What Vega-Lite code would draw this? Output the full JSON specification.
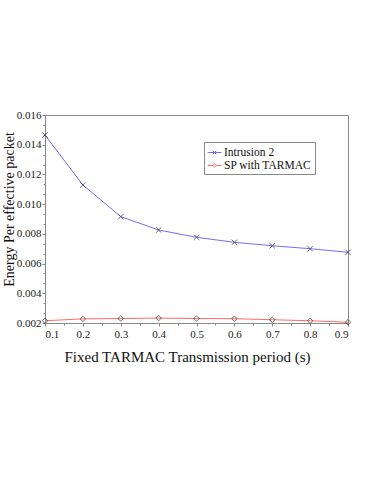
{
  "$schema": "https://vega.github.io/schema/vega-lite/v6.json",
  "autosize": "none",
  "width": 303,
  "height": 208,
  "padding": {"left": 45, "top": 115, "right": 26, "bottom": 161},
  "background": "white",
  "config": {
    "font": "Liberation Serif",
    "view": {"stroke": "#888888", "strokeWidth": 1},
    "axis": {"labelFont": "Liberation Serif", "titleFont": "Liberation Serif", "labelColor": "#222", "titleColor": "#111", "domainColor": "#888", "tickColor": "#888", "grid": false, "titleFontWeight": "normal"}
  },
  "data": {"values": [
    {"period": 0.1, "energy": 0.01465, "series": "Intrusion 2"},
    {"period": 0.2, "energy": 0.01129, "series": "Intrusion 2"},
    {"period": 0.3, "energy": 0.00916, "series": "Intrusion 2"},
    {"period": 0.4, "energy": 0.00826, "series": "Intrusion 2"},
    {"period": 0.5, "energy": 0.00777, "series": "Intrusion 2"},
    {"period": 0.6, "energy": 0.00743, "series": "Intrusion 2"},
    {"period": 0.7, "energy": 0.00720, "series": "Intrusion 2"},
    {"period": 0.8, "energy": 0.00700, "series": "Intrusion 2"},
    {"period": 0.9, "energy": 0.00676, "series": "Intrusion 2"},
    {"period": 0.1, "energy": 0.00215, "series": "SP with TARMAC"},
    {"period": 0.2, "energy": 0.00228, "series": "SP with TARMAC"},
    {"period": 0.3, "energy": 0.00230, "series": "SP with TARMAC"},
    {"period": 0.4, "energy": 0.00233, "series": "SP with TARMAC"},
    {"period": 0.5, "energy": 0.00230, "series": "SP with TARMAC"},
    {"period": 0.6, "energy": 0.00229, "series": "SP with TARMAC"},
    {"period": 0.7, "energy": 0.00222, "series": "SP with TARMAC"},
    {"period": 0.8, "energy": 0.00215, "series": "SP with TARMAC"},
    {"period": 0.9, "energy": 0.00205, "series": "SP with TARMAC"}
  ]},
  "resolve": {"axis": {"x": "independent", "y": "independent"}},
  "layer": [
    {
      "mark": {"type": "line", "strokeWidth": 1},
      "encoding": {
        "x": {"field": "period", "type": "quantitative", "scale": {"domain": [0.1, 0.9], "nice": false, "zero": false},
          "axis": {"orient": "bottom", "values": [0.1,0.2,0.3,0.4,0.5,0.6,0.7,0.8,0.9], "format": ".1f", "labelFontSize": 11, "title": "Fixed TARMAC Transmission period (s)", "titleFontSize": 15, "titlePadding": 10, "titleX": 142, "tickSize": 3, "labelPadding": 2}},
        "y": {"field": "energy", "type": "quantitative", "scale": {"domain": [0.002, 0.016], "nice": false, "zero": false},
          "axis": {"orient": "left", "values": [0.002,0.004,0.006,0.008,0.010,0.012,0.014,0.016], "format": ".3f", "labelFontSize": 11, "title": "Energy Per effective packet", "titleFontSize": 14, "titlePadding": 0, "titleY": 94, "tickSize": 3, "labelPadding": 1}},
        "color": {"field": "series", "type": "nominal", "scale": {"domain": ["Intrusion 2", "SP with TARMAC"], "range": ["#6f6fff", "#ff6a6a"]},
          "legend": {"title": null, "orient": "none", "legendX": 159, "legendY": 27, "labelFont": "Liberation Serif", "labelFontSize": 11.5, "labelColor": "#111", "strokeColor": "#888", "fillColor": "white", "padding": 3, "rowPadding": 0, "symbolSize": 190, "symbolStrokeWidth": 1, "labelOffset": 2, "symbolType": "stroke",
            "encode": {"symbols": {"update": {"shape": {"signal": "datum.value == 'Intrusion 2' ? 'M-1,0L1,0M-0.25,-0.25L0.25,0.25M-0.25,0.25L0.25,-0.25' : 'M-1,0L-0.25,0L0,-0.25L0.25,0L0,0.25L-0.25,0M0.25,0L1,0'"}}}}}}
      }
    },
    {
      "transform": [{"filter": "datum.series == 'Intrusion 2'"}],
      "mark": {"type": "point", "filled": false, "stroke": "#333", "strokeWidth": 1, "size": 30, "shape": "M-1,-1L1,1M-1,1L1,-1"},
      "encoding": {
        "x": {"field": "period", "type": "quantitative", "scale": {"domain": [0.1, 0.9], "nice": false, "zero": false},
          "axis": {"orient": "bottom", "values": [0.15,0.25,0.35,0.45,0.55,0.65,0.75,0.85], "labels": false, "domain": false, "tickSize": 2, "title": null}},
        "y": {"field": "energy", "type": "quantitative", "scale": {"domain": [0.002, 0.016], "nice": false, "zero": false},
          "axis": {"orient": "left", "values": [0.002667,0.003333,0.004667,0.005333,0.006667,0.007333,0.008667,0.009333,0.010667,0.011333,0.012667,0.013333,0.014667,0.015333], "labels": false, "domain": false, "tickSize": 2, "title": null}}
      }
    },
    {
      "transform": [{"filter": "datum.series == 'SP with TARMAC'"}],
      "mark": {"type": "point", "filled": false, "stroke": "#333", "strokeWidth": 1, "size": 30, "shape": "diamond"},
      "encoding": {
        "x": {"field": "period", "type": "quantitative", "axis": null},
        "y": {"field": "energy", "type": "quantitative", "axis": null}
      }
    }
  ]
}
